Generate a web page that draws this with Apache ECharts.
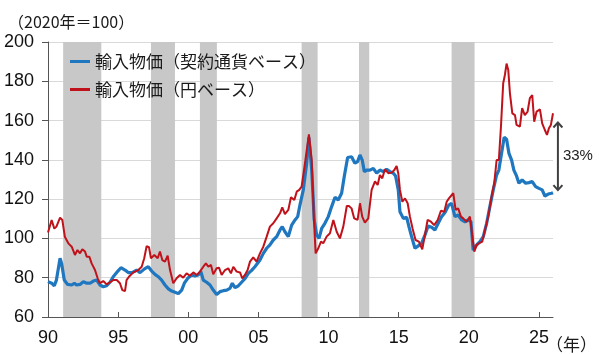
<!DOCTYPE html>
<html>
<head>
<meta charset="utf-8">
<script src="https://cdn.jsdelivr.net/npm/echarts@6/dist/echarts.min.js"></script>
<style>html,body{margin:0;padding:0;background:#fff;}#c{width:600px;height:354px;}</style>
</head>
<body>
<div id="c"></div>
<script>
// ---- data (decimal years) ----
const contractName = '輸入物価（契約通貨ベース）';
const yenName = '輸入物価（円ベース）';

const contractYears = [1990.0,1990.26,1990.45,1990.6,1990.86,1990.97,1991.16,1991.4,1991.69,1991.88,1992.04,1992.28,1992.52,1992.76,1993.0,1993.23,1993.47,1993.7,1993.94,1994.18,1994.42,1994.65,1994.9,1995.2,1995.49,1995.72,1996.0,1996.32,1996.56,1996.88,1997.15,1997.39,1997.63,1997.86,1998.1,1998.34,1998.58,1998.82,1999.05,1999.29,1999.53,1999.72,1999.96,2000.24,2000.48,2000.71,2000.9,2001.07,2001.31,2001.55,2001.78,2002.02,2002.26,2002.5,2002.74,2002.97,2003.14,2003.33,2003.57,2003.8,2004.04,2004.28,2004.5,2004.75,2005.11,2005.35,2005.59,2005.82,2006.06,2006.3,2006.54,2006.7,2006.89,2007.13,2007.37,2007.61,2007.8,2007.96,2008.2,2008.44,2008.6,2008.8,2008.98,2009.15,2009.32,2009.51,2009.74,2009.98,2010.22,2010.46,2010.69,2010.93,2011.12,2011.36,2011.64,2011.88,2012.07,2012.24,2012.4,2012.55,2012.72,2012.95,2013.19,2013.43,2013.66,2013.9,2014.14,2014.38,2014.62,2014.78,2014.97,2015.09,2015.33,2015.57,2015.73,2015.92,2016.16,2016.39,2016.63,2016.87,2017.1,2017.35,2017.58,2017.82,2018.06,2018.3,2018.55,2018.77,2019.01,2019.24,2019.49,2019.72,2019.96,2020.15,2020.31,2020.56,2020.79,2021.03,2021.27,2021.5,2021.74,2021.98,2022.14,2022.33,2022.52,2022.69,2022.86,2023.05,2023.21,2023.4,2023.57,2023.8,2024.05,2024.28,2024.52,2024.76,2025.0,2025.23,2025.42,2025.66,2025.9,2026.0];
const contractValues = [78.0,77.2,75.9,78.8,89.9,87.3,78.8,76.6,76.3,77.2,76.3,76.6,78.0,77.2,77.2,78.3,78.8,76.3,75.4,75.9,77.7,80.5,82.7,85.1,83.9,82.6,82.6,83.9,82.6,84.5,85.6,83.4,81.7,80.5,78.8,76.3,74.3,73.2,72.6,71.9,73.7,77.2,79.7,81.4,80.9,81.4,83.1,78.8,77.7,76.3,73.7,71.5,72.9,73.4,73.7,74.6,77.2,74.9,75.9,77.7,79.5,82.2,83.6,85.6,89.0,92.4,95.0,96.7,99.2,100.9,104.3,106.0,103.4,100.9,106.8,109.4,111.1,117.0,124.7,138.3,151.5,134.8,109.4,101.7,100.0,105.1,107.7,111.1,116.2,121.0,119.6,123.0,131.5,141.2,141.6,138.3,139.1,142.5,139.9,134.0,134.8,134.8,135.7,133.2,134.8,134.0,135.2,134.0,133.2,131.8,124.7,113.6,110.2,110.7,106.0,100.9,95.0,96.2,97.5,101.7,106.3,105.7,104.3,107.7,111.1,113.2,116.8,117.9,111.1,111.9,109.4,108.5,109.4,108.5,94.1,96.7,98.4,100.9,107.7,116.2,124.7,132.3,134.8,143.3,151.5,150.5,143.3,139.9,134.8,131.8,128.1,129.8,128.1,128.4,128.9,126.4,125.5,124.7,121.6,122.6,123.0,123.3];

const yenYears = [1990.0,1990.26,1990.45,1990.6,1990.86,1991.02,1991.2,1991.45,1991.69,1991.92,1992.1,1992.28,1992.45,1992.64,1992.76,1992.95,1993.11,1993.35,1993.54,1993.7,1993.94,1994.18,1994.42,1994.65,1994.9,1995.13,1995.3,1995.49,1995.6,1995.77,1996.08,1996.44,1996.68,1996.86,1997.03,1997.2,1997.34,1997.58,1997.82,1997.98,1998.15,1998.34,1998.53,1998.7,1998.93,1999.17,1999.41,1999.64,1999.88,2000.12,2000.36,2000.6,2000.83,2001.07,2001.26,2001.43,2001.62,2001.78,2002.02,2002.19,2002.38,2002.62,2002.85,2003.04,2003.21,2003.45,2003.69,2003.85,2004.04,2004.23,2004.4,2004.63,2004.87,2005.11,2005.35,2005.59,2005.82,2006.06,2006.3,2006.54,2006.7,2006.89,2007.13,2007.32,2007.56,2007.73,2007.91,2008.08,2008.32,2008.6,2008.8,2008.96,2009.08,2009.27,2009.46,2009.62,2009.86,2010.1,2010.34,2010.58,2010.81,2011.05,2011.3,2011.45,2011.64,2011.83,2012.07,2012.24,2012.4,2012.59,2012.83,2013.07,2013.31,2013.5,2013.66,2013.83,2014.02,2014.26,2014.5,2014.69,2014.85,2014.97,2015.09,2015.26,2015.45,2015.64,2015.8,2015.99,2016.2,2016.44,2016.68,2016.87,2017.06,2017.3,2017.53,2017.78,2018.01,2018.25,2018.42,2018.58,2018.72,2018.89,2019.06,2019.24,2019.44,2019.6,2019.84,2020.08,2020.24,2020.39,2020.56,2020.79,2020.96,2021.15,2021.38,2021.62,2021.81,2021.98,2022.14,2022.29,2022.45,2022.57,2022.69,2022.81,2022.93,2023.1,2023.29,2023.4,2023.64,2023.8,2023.99,2024.19,2024.35,2024.52,2024.66,2024.83,2025.07,2025.23,2025.42,2025.57,2025.71,2025.85,2026.0];
const yenValues = [103.0,109.4,105.0,106.0,110.6,109.4,100.9,97.5,95.8,91.6,94.1,92.4,94.5,93.3,90.7,90.7,87.3,83.9,79.7,77.2,78.3,76.6,77.7,78.8,78.8,77.2,73.7,73.2,78.8,80.5,82.7,83.9,85.6,89.9,96.0,95.5,89.9,91.6,89.9,93.3,89.0,88.2,91.2,83.9,77.2,79.7,81.4,80.0,82.2,81.0,82.7,81.4,83.1,85.6,87.3,85.6,86.5,81.7,84.8,85.1,81.4,83.9,84.8,82.2,85.6,83.1,82.7,79.7,81.4,83.9,88.2,90.4,88.2,92.4,95.8,100.9,106.0,107.7,110.2,112.8,115.8,112.4,114.5,121.0,119.6,123.8,124.7,126.4,138.3,153.0,139.9,109.4,92.4,95.0,98.4,97.5,100.9,102.6,109.4,103.4,100.0,106.0,116.5,116.5,115.3,110.2,109.4,117.9,111.1,108.0,110.2,124.7,129.0,127.2,132.3,130.6,135.2,133.2,133.5,134.8,136.9,133.2,124.7,118.7,120.4,117.9,111.1,105.1,99.2,98.4,94.5,101.7,109.4,108.5,106.8,109.4,114.1,113.6,118.7,120.4,121.3,123.0,114.5,115.3,111.1,110.2,108.5,111.1,101.7,93.3,96.7,97.8,98.4,104.3,111.1,121.3,128.1,139.9,139.9,156.9,179.0,183.2,189.0,185.8,173.9,163.7,162.8,157.8,156.9,166.3,162.8,164.6,171.4,173.0,159.4,164.6,165.7,158.6,155.2,152.7,156.1,157.8,163.7];

// recession periods (shaded)
const recessionStarts = [1991.08, 1997.34, 2000.83, 2008.08, 2012.17, 2018.77];
const recessionEnds   = [1993.80, 1999.05, 2002.04, 2009.22, 2012.90, 2020.41];

const xTickYears = [1990, 1995, 2000, 2005, 2010, 2015, 2020, 2025];
const yMin = 60, yMax = 200, yStep = 20;
const xMin = 1990, xMax = 2026;

// annotation: gap arrow
const arrowX = 2026.35, arrowTop = 159, arrowBottom = 124.6;
const gapLabel = '33%';

// ---- chart ----
const FONT = "'Liberation Sans', Arial, 'Noto Sans CJK JP', sans-serif";
const JFONT = "'Noto Sans CJK JP', sans-serif";
const chart = echarts.init(document.getElementById('c'), null, {renderer: 'canvas'});

function pairs(xs, ys) { return xs.map((x, i) => [x, ys[i]]); }

const option = {
  animation: false,
  backgroundColor: '#fff',
  grid: {left: 48, right: 47, top: 42, bottom: 37, containLabel: false, outerBoundsMode: 'none'},
  legend: {
    data: [contractName, yenName],
    orient: 'vertical',
    left: 70, top: 53,
    padding: 0,
    itemGap: 11,
    icon: 'rect',
    itemWidth: 20, itemHeight: 3,
    textStyle: {fontFamily: JFONT, fontSize: 17, color: '#1a1a1a'}
  },
  xAxis: {
    type: 'value', min: xMin, max: xMax,
    axisLine: {show: true, lineStyle: {color: '#555', width: 1}},
    axisTick: {show: true, inside: true, length: 5, lineStyle: {color: '#555'}, customValues: xTickYears},
    axisLabel: {
      customValues: xTickYears,
      formatter: v => String(Math.round(v) % 100).padStart(2, '0'),
      fontFamily: FONT, fontSize: 18, color: '#111', margin: 12
    },
    splitLine: {show: false}
  },
  yAxis: {
    type: 'value', min: yMin, max: yMax, interval: yStep,
    axisLine: {show: true, lineStyle: {color: '#555', width: 1}},
    axisTick: {show: true, inside: false, length: 6, lineStyle: {color: '#555'}},
    axisLabel: {fontFamily: FONT, fontSize: 18, color: '#111', margin: 14},
    splitLine: {show: true, lineStyle: {color: '#d9d9d9', width: 1}}
  },
  series: [
    {
      name: contractName, type: 'line', showSymbol: false, symbol: 'none',
      data: pairs(contractYears, contractValues),
      lineStyle: {color: '#1f77c0', width: 3.2},
      itemStyle: {color: '#1f77c0'},
      z: 3,
      markArea: {
        silent: true,
        itemStyle: {color: '#c8c8c8'},
        label: {show: false},
        data: recessionStarts.map((s, i) => [{xAxis: s}, {xAxis: recessionEnds[i]}])
      }
    },
    {
      name: yenName, type: 'line', showSymbol: false, symbol: 'none',
      data: pairs(yenYears, yenValues),
      lineStyle: {color: '#c0121a', width: 2},
      itemStyle: {color: '#c0121a'},
      z: 4
    }
  ]
};
chart.setOption(option);

const pTop = chart.convertToPixel({gridIndex: 0}, [arrowX, arrowTop]);
const pBot = chart.convertToPixel({gridIndex: 0}, [arrowX, arrowBottom]);
const ax = pTop[0];
const head = 4.5;
const arrowStyle = {stroke: '#404040', lineWidth: 2, fill: null};

chart.setOption({
  graphic: [
    {type: 'text', left: 8, top: 14, style: {text: '（2020年＝100）', font: "16px " + JFONT, fill: '#1a1a1a'}},
    {type: 'text', left: 546, top: 336, style: {text: '（年）', font: "17px " + JFONT, fill: '#1a1a1a'}},
    {type: 'text', x: ax + 5, y: (pTop[1] + pBot[1]) / 2, style: {text: gapLabel, font: "15px " + FONT, fill: '#222', verticalAlign: 'middle', align: 'left'}},
    {type: 'line', shape: {x1: ax, y1: pTop[1], x2: ax, y2: pBot[1]}, style: arrowStyle},
    {type: 'polyline', shape: {points: [[ax - head, pTop[1] + 5], [ax, pTop[1]], [ax + head, pTop[1] + 5]]}, style: arrowStyle},
    {type: 'polyline', shape: {points: [[ax - head, pBot[1] - 5], [ax, pBot[1]], [ax + head, pBot[1] - 5]]}, style: arrowStyle}
  ]
});
</script>
</body>
</html>
